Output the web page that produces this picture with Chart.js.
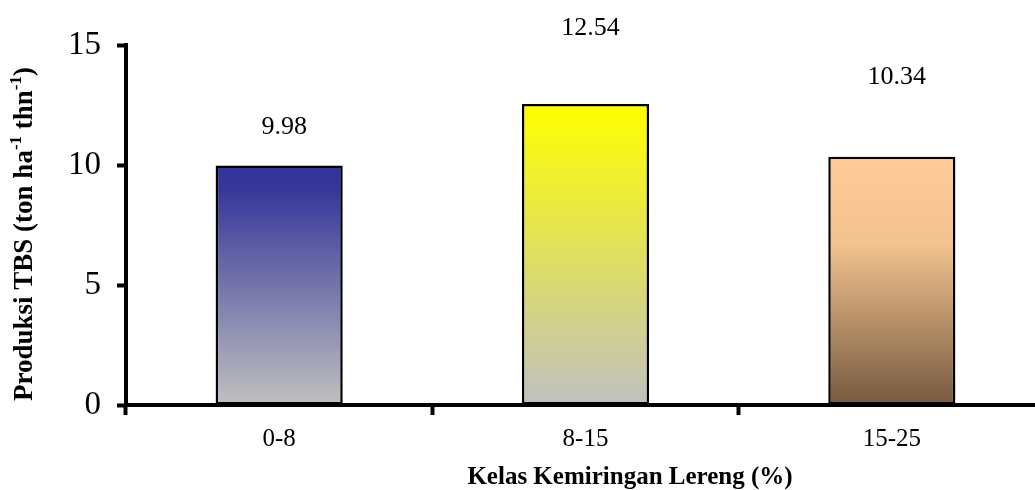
<!DOCTYPE html>
<html><head><meta charset="utf-8">
<script src="https://cdn.jsdelivr.net/npm/chart.js@4/dist/chart.umd.min.js"></script>
<style>
html,body{margin:0;padding:0;overflow:hidden;background:#fff;}
#wrap{width:1050px;height:490px;}
</style></head>
<body><div id="wrap"><canvas id="c" width="1050" height="490"></canvas></div>
<script>
const categories = ["0-8", "8-15", "15-25"];
const values = [9.98, 12.54, 10.34];
const valueLabels = ["9.98", "12.54", "10.34"];
const yTicks = [0, 5, 10, 15];
const xTitle = "Kelas Kemiringan Lereng (%)";
const yTitleParts = [["Produksi TBS (ton ha", false], ["-1", true], [" thn", false], ["-1", true], [")", false]];

const gradStops = [
  [[0, "#333399"], [0.1, "#37379a"], [1, "#c0c0c0"]],
  [[0, "#ffff00"], [1, "#c0c0c0"]],
  [[0, "#ffcc99"], [0.35, "#f2c28f"], [1, "#76593f"]]
];
const labelOffsets = [38, 76, 80];
const FONT = "'Liberation Serif','Times New Roman',serif";

function barGradient(ctx) {
  const chart = ctx.chart;
  if (!chart.chartArea || ctx.dataIndex === undefined) return "#ccc";
  const y = chart.scales.y;
  const top = y.getPixelForValue(values[ctx.dataIndex]);
  const bot = y.getPixelForValue(0);
  const g = chart.ctx.createLinearGradient(0, top, 0, bot);
  gradStops[ctx.dataIndex].forEach(s => g.addColorStop(s[0], s[1]));
  return g;
}

const overlay = {
  id: "overlay",
  afterDatasetsDraw(chart) {
    const c = chart.ctx;
    const meta = chart.getDatasetMeta(0);
    c.save();
    c.fillStyle = "#000";
    c.font = "26px " + FONT;
    c.textAlign = "center";
    c.textBaseline = "middle";
    meta.data.forEach((bar, i) => {
      c.fillText(valueLabels[i], bar.x + 5, bar.y - labelOffsets[i]);
    });
    // x title
    c.font = "bold 25px " + FONT;
    c.fillText(xTitle, 630, 478);
    // y title with superscripts
    c.translate(25, 234);
    c.rotate(-Math.PI / 2);
    const main = "bold 27px " + FONT, sup = "bold 17px " + FONT;
    let total = 0;
    yTitleParts.forEach(p => { c.font = p[1] ? sup : main; total += c.measureText(p[0]).width; });
    let x = -total / 2;
    c.textAlign = "left";
    yTitleParts.forEach(p => {
      c.font = p[1] ? sup : main;
      c.fillText(p[0], x, p[1] ? -8 : 0);
      x += c.measureText(p[0]).width;
    });
    c.restore();
  }
};

new Chart(document.getElementById("c"), {
  type: "bar",
  data: {
    labels: categories,
    datasets: [{
      data: values,
      backgroundColor: barGradient,
      borderColor: "#000",
      borderWidth: 2.5,
      borderSkipped: false,
      barPercentage: 0.415,
      categoryPercentage: 1
    }]
  },
  options: {
    responsive: false,
    animation: false,
    devicePixelRatio: 1,
    layout: { padding: { top: 45, right: 5, left: 0, bottom: 0 } },
    plugins: { legend: { display: false }, tooltip: { enabled: false } },
    scales: {
      x: {
        afterFit(s) { s.height = 85; },
        grid: { offset: true, drawOnChartArea: false, drawTicks: true, tickLength: 10, tickWidth: 4, tickColor: "#000", color: "#000" },
        border: { display: true, color: "#000", width: 4 },
        ticks: { color: "#000", font: { family: FONT, size: 25 }, padding: 9 }
      },
      y: {
        min: 0, max: 15,
        afterFit(s) { s.width = 126; },
        afterBuildTicks(s) { s.ticks = yTicks.map(v => ({ value: v })); },
        grid: { drawOnChartArea: false, drawTicks: true, tickLength: 9, tickWidth: 4, tickColor: "#000", color: "#000" },
        border: { display: true, color: "#000", width: 4 },
        ticks: { color: "#000", font: { family: FONT, size: 33 }, padding: 16 }
      }
    }
  },
  plugins: [overlay]
});
</script></body></html>
